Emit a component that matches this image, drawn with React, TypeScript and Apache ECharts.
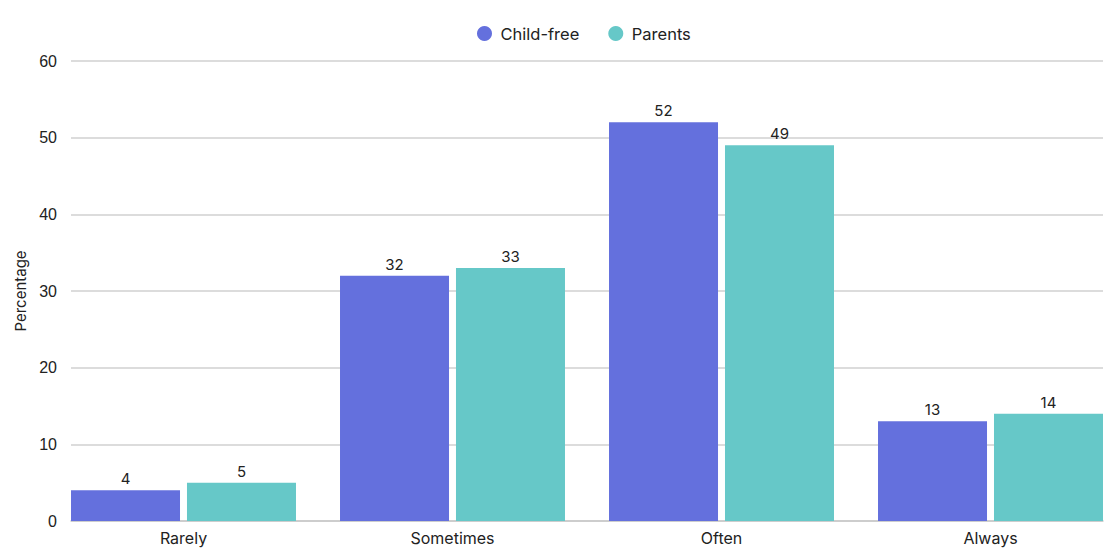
import React, { useEffect, useRef } from "react";
import * as echarts from "echarts";

const categories = ["Rarely", "Sometimes", "Often", "Always"];
const childFree = [4, 32, 52, 13];
const parents = [5, 33, 49, 14];
const seriesNames = ["Child-free", "Parents"];

export default function App() {
  const ref = useRef<HTMLDivElement>(null);
  useEffect(() => {
    if (!ref.current) return;
    const chart = echarts.init(ref.current, null, { renderer: "svg" });
    const textFont = "Inter, 'Open Sans', sans-serif";
    const mk = (vals: number[]) => vals.map((v, i) => [i, v]);
    chart.setOption({
      animation: false,
      textStyle: { fontFamily: textFont },
      legend: {
        top: 20,
        left: 472,
        icon: "circle",
        itemWidth: 22,
        itemHeight: 15,
        itemGap: 29,
        textStyle: { fontSize: 16.5, color: "#222", fontFamily: textFont },
        data: seriesNames,
      },
      grid: { left: 71, right: 17, top: 61, bottom: 39, containLabel: false },
      xAxis: {
        type: "value",
        min: -0.4182,
        max: 3.4182,
        splitLine: { show: false },
        axisTick: { show: false },
        axisLine: { show: true, lineStyle: { color: "#c8c8c8", width: 1.5 } },
        axisLabel: {
          customValues: [0, 1, 2, 3],
          formatter: (v: number) => categories[Math.round(v)] ?? "",
          fontSize: 16,
          color: "#222",
          margin: 9,
          fontFamily: textFont,
        },
      },
      yAxis: {
        type: "value",
        min: 0,
        max: 60,
        interval: 10,
        name: "Percentage",
        nameLocation: "middle",
        nameRotate: 90,
        nameGap: 43,
        nameTextStyle: { fontSize: 15, color: "#222", fontFamily: textFont },
        axisLine: { show: false },
        axisTick: { show: false },
        axisLabel: { fontSize: 16, color: "#222", margin: 14, fontFamily: "'Liberation Sans', Arial, sans-serif" },
        splitLine: { lineStyle: { color: "#d0d0d0", width: 1.5 } },
      },
      series: [
        {
          name: seriesNames[0],
          type: "bar",
          data: mk(childFree),
          barWidth: 109,
          barGap: "6.4%",
          itemStyle: { color: "#6470DD" },
          label: { show: true, position: "top", fontSize: 15, color: "#222", distance: 4, formatter: (p: any) => p.value[1] },
        },
        {
          name: seriesNames[1],
          type: "bar",
          data: mk(parents),
          barWidth: 109,
          barGap: "6.4%",
          itemStyle: { color: "#66C8C8" },
          label: { show: true, position: "top", fontSize: 15, color: "#222", distance: 4, formatter: (p: any) => p.value[1] },
        },
      ],
    });
    return () => chart.dispose();
  }, []);
  return <div ref={ref} style={{ width: 1120, height: 560, position: "absolute", left: 0, top: 0 }} />;
}
